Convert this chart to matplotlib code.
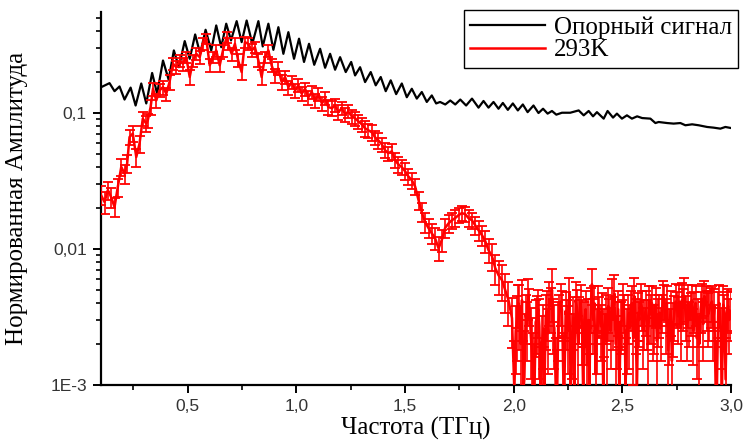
import numpy as np
import matplotlib.pyplot as plt
from matplotlib.ticker import FixedLocator, NullFormatter, LogLocator

# reference signal (peaks / troughs)
ref_freq = [0.101, 0.140, 0.163, 0.186, 0.209, 0.237, 0.260, 0.286, 0.309, 0.336,
            0.359, 0.386, 0.412, 0.436, 0.459, 0.486, 0.509, 0.534, 0.557, 0.582,
            0.608, 0.631, 0.654, 0.677, 0.699, 0.725, 0.748, 0.771, 0.797, 0.825,
            0.845, 0.871, 0.894, 0.917, 0.940, 0.963, 0.989, 1.012, 1.035, 1.058,
            1.082, 1.109, 1.132, 1.155, 1.178, 1.201, 1.227, 1.252, 1.270, 1.293,
            1.316, 1.342, 1.365, 1.388, 1.411, 1.434, 1.459, 1.485, 1.508, 1.531,
            1.554, 1.577, 1.600, 1.623, 1.643, 1.661, 1.685, 1.708, 1.731, 1.754,
            1.781, 1.808, 1.838, 1.861, 1.884, 1.907, 1.930, 1.950, 1.973, 1.996,
            2.019, 2.042, 2.064, 2.091, 2.114, 2.135, 2.156, 2.176, 2.196, 2.222,
            2.260, 2.299, 2.322, 2.345, 2.365, 2.383, 2.414, 2.432, 2.457, 2.475,
            2.498, 2.521, 2.544, 2.568, 2.591, 2.629, 2.652, 2.667, 2.706, 2.736,
            2.767, 2.790, 2.821, 2.851, 2.890, 2.920, 2.951, 2.974, 3.000]
ref_amp = [0.154, 0.165, 0.144, 0.156, 0.125, 0.153, 0.113, 0.164, 0.117, 0.196,
           0.138, 0.242, 0.175, 0.287, 0.216, 0.336, 0.249, 0.376, 0.271, 0.407,
           0.287, 0.438, 0.303, 0.451, 0.340, 0.471, 0.330, 0.476, 0.321, 0.471,
           0.307, 0.451, 0.290, 0.425, 0.271, 0.391, 0.249, 0.350, 0.236, 0.321,
           0.225, 0.295, 0.214, 0.271, 0.207, 0.256, 0.199, 0.236, 0.188, 0.216,
           0.168, 0.199, 0.159, 0.183, 0.144, 0.173, 0.137, 0.164, 0.130, 0.150,
           0.127, 0.142, 0.120, 0.134, 0.117, 0.120, 0.115, 0.123, 0.115, 0.125,
           0.113, 0.127, 0.109, 0.122, 0.109, 0.120, 0.107, 0.118, 0.105, 0.117,
           0.104, 0.115, 0.101, 0.113, 0.0995, 0.107, 0.0985, 0.103, 0.0968, 0.100,
           0.100, 0.104, 0.0957, 0.103, 0.0941, 0.101, 0.0905, 0.103, 0.0921, 0.0985,
           0.0905, 0.0957, 0.0905, 0.0941, 0.0914, 0.0905, 0.0840, 0.0855, 0.0840, 0.0832,
           0.0840, 0.0809, 0.0822, 0.0809, 0.0786, 0.0777, 0.0764, 0.0786, 0.0772]

# 293K, smooth part
s_freq = [0.101, 0.117, 0.132, 0.147, 0.163, 0.178, 0.194, 0.209, 0.221, 0.232,
          0.247, 0.263, 0.278, 0.293, 0.309, 0.316, 0.329, 0.340, 0.355, 0.370,
          0.386, 0.401, 0.416, 0.432, 0.447, 0.463, 0.478, 0.493, 0.509, 0.524,
          0.539, 0.555, 0.570, 0.585, 0.601, 0.616, 0.631, 0.647, 0.662, 0.679,
          0.686, 0.702, 0.717, 0.732, 0.748, 0.763, 0.778, 0.794, 0.809, 0.825,
          0.840, 0.855, 0.871, 0.886, 0.901, 0.917, 0.932, 0.948, 0.963, 0.978,
          0.994, 1.009, 1.024, 1.040, 1.055, 1.071, 1.086, 1.101, 1.117, 1.132,
          1.147, 1.163, 1.178, 1.193, 1.209, 1.224, 1.239, 1.255, 1.270, 1.285,
          1.301, 1.316, 1.331, 1.347, 1.362, 1.377, 1.393, 1.408, 1.423, 1.439,
          1.454, 1.469, 1.485, 1.500, 1.515, 1.531, 1.546, 1.562, 1.577, 1.592,
          1.608, 1.623, 1.638, 1.654, 1.669, 1.684, 1.700, 1.715, 1.730, 1.746,
          1.761, 1.777, 1.792, 1.808, 1.823, 1.838, 1.854, 1.869, 1.884, 1.900,
          1.915, 1.930, 1.946, 1.961, 1.976, 1.992]
s_amp = [0.0248, 0.0221, 0.0270, 0.0241, 0.0203, 0.0285, 0.0400, 0.0357, 0.0423, 0.0663,
         0.0703, 0.0473, 0.0593, 0.0905, 0.0832, 0.0879, 0.110, 0.150, 0.123, 0.146,
         0.154, 0.138, 0.168, 0.229, 0.216, 0.242, 0.229, 0.256, 0.183, 0.242,
         0.271, 0.256, 0.321, 0.350, 0.223, 0.256, 0.287, 0.223, 0.287, 0.359,
         0.321, 0.271, 0.321, 0.242, 0.199, 0.330, 0.321, 0.287, 0.303, 0.242,
         0.183, 0.256, 0.287, 0.223, 0.188, 0.211, 0.168, 0.183, 0.154, 0.168,
         0.146, 0.159, 0.138, 0.150, 0.130, 0.142, 0.123, 0.138, 0.117, 0.127,
         0.110, 0.108, 0.113, 0.101, 0.108, 0.0973, 0.102, 0.0941, 0.0910, 0.0865,
         0.0822, 0.0768, 0.0743, 0.0718, 0.0660, 0.0627, 0.0586, 0.0530, 0.0504, 0.0521,
         0.0448, 0.0418, 0.0398, 0.0372, 0.0341, 0.0319, 0.0288, 0.0228, 0.0186, 0.0157,
         0.0142, 0.0130, 0.0120, 0.0101, 0.0116, 0.0142, 0.0154, 0.0162, 0.0168, 0.0177,
         0.0183, 0.0180, 0.0168, 0.0162, 0.0149, 0.0137, 0.0126, 0.0114, 0.00978, 0.00884,
         0.00722, 0.00641, 0.00589, 0.00498, 0.00420, 0.00310]
s_rel_err = [0.16, 0.18, 0.15, 0.17, 0.16, 0.15, 0.14, 0.16, 0.15, 0.12,
             0.13, 0.15, 0.14, 0.12, 0.13, 0.12, 0.12, 0.11, 0.12, 0.11,
             0.12, 0.11, 0.12, 0.10, 0.11, 0.10, 0.11, 0.10, 0.12, 0.10,
             0.10, 0.11, 0.10, 0.09, 0.11, 0.10, 0.10, 0.11, 0.10, 0.09,
             0.10, 0.11, 0.10, 0.11, 0.12, 0.10, 0.10, 0.11, 0.10, 0.11,
             0.12, 0.10, 0.10, 0.11, 0.12, 0.11, 0.12, 0.11, 0.12, 0.11,
             0.12, 0.11, 0.12, 0.11, 0.12, 0.11, 0.12, 0.11, 0.12, 0.11,
             0.12, 0.12, 0.11, 0.12, 0.11, 0.12, 0.11, 0.12, 0.12, 0.12,
             0.12, 0.13, 0.12, 0.13, 0.12, 0.13, 0.12, 0.13, 0.12, 0.13,
             0.13, 0.14, 0.13, 0.14, 0.13, 0.14, 0.14, 0.15, 0.16, 0.17,
             0.16, 0.17, 0.18, 0.20, 0.18, 0.16, 0.15, 0.14, 0.14, 0.13,
             0.13, 0.13, 0.14, 0.14, 0.15, 0.16, 0.17, 0.18, 0.20, 0.22,
             0.25, 0.28, 0.30, 0.32, 0.35, 0.40]

# 293K, noisy tail above 2 THz
n_freq = [2.003, 2.009, 2.015, 2.021, 2.026, 2.032, 2.038, 2.044, 2.049, 2.055,
          2.061, 2.067, 2.072, 2.078, 2.084, 2.090, 2.095, 2.101, 2.107, 2.113,
          2.118, 2.124, 2.130, 2.136, 2.141, 2.147, 2.153, 2.159, 2.164, 2.170,
          2.176, 2.182, 2.187, 2.193, 2.199, 2.205, 2.210, 2.216, 2.222, 2.228,
          2.233, 2.239, 2.245, 2.251, 2.256, 2.262, 2.268, 2.274, 2.279, 2.285,
          2.291, 2.297, 2.302, 2.308, 2.314, 2.320, 2.325, 2.331, 2.337, 2.343,
          2.348, 2.354, 2.360, 2.366, 2.371, 2.377, 2.383, 2.389, 2.394, 2.400,
          2.406, 2.412, 2.417, 2.423, 2.429, 2.435, 2.440, 2.446, 2.452, 2.458,
          2.463, 2.469, 2.475, 2.481, 2.486, 2.492, 2.498, 2.504, 2.509, 2.515,
          2.521, 2.527, 2.532, 2.538, 2.544, 2.550, 2.555, 2.561, 2.567, 2.573,
          2.578, 2.584, 2.590, 2.596, 2.601, 2.607, 2.613, 2.619, 2.624, 2.630,
          2.636, 2.642, 2.647, 2.653, 2.659, 2.665, 2.670, 2.676, 2.682, 2.688,
          2.693, 2.699, 2.705, 2.711, 2.716, 2.722, 2.728, 2.734, 2.739, 2.745,
          2.751, 2.757, 2.762, 2.768, 2.774, 2.780, 2.785, 2.791, 2.797, 2.803,
          2.808, 2.814, 2.820, 2.826, 2.831, 2.837, 2.843, 2.849, 2.854, 2.860,
          2.866, 2.872, 2.877, 2.883, 2.889, 2.895, 2.900, 2.906, 2.912, 2.918,
          2.923, 2.929, 2.935, 2.941, 2.946, 2.952, 2.958, 2.964, 2.969, 2.975,
          2.981, 2.987, 2.992, 2.998]
n_amp = [0.0009, 0.0025, 0.0030, 0.0040, 0.0036, 0.0020, 0.0042, 0.0009, 0.0011, 0.0033,
         0.0028, 0.0045, 0.0039, 0.0024, 0.0017, 0.0012, 0.0008, 0.0029, 0.0031, 0.0036,
         0.0027, 0.0008, 0.0020, 0.0026, 0.0008, 0.0032, 0.0035, 0.0024, 0.0042, 0.0038,
         0.0050, 0.0030, 0.0026, 0.0010, 0.0007, 0.0028, 0.0034, 0.0041, 0.0036, 0.0012,
         0.0009, 0.0035, 0.0030, 0.0025, 0.0047, 0.0009, 0.0022, 0.0031, 0.0008, 0.0042,
         0.0037, 0.0020, 0.0032, 0.0040, 0.0028, 0.0008, 0.0030, 0.0036, 0.0014, 0.0030,
         0.0009, 0.0038, 0.0055, 0.0030, 0.0040, 0.0012, 0.0024, 0.0039, 0.0033, 0.0027,
         0.0035, 0.0009, 0.0026, 0.0033, 0.0021, 0.0038, 0.0032, 0.0025, 0.0045, 0.0031,
         0.0047, 0.0020, 0.0027, 0.0036, 0.0008, 0.0029, 0.0030, 0.0041, 0.0035, 0.0010,
         0.0024, 0.0033, 0.0026, 0.0037, 0.0040, 0.0022, 0.0045, 0.0030, 0.0009, 0.0034,
         0.0030, 0.0041, 0.0037, 0.0025, 0.0030, 0.0036, 0.0030, 0.0020, 0.0042, 0.0033,
         0.0040, 0.0027, 0.0028, 0.0039, 0.0021, 0.0031, 0.0034, 0.0026, 0.0035, 0.0044,
         0.0042, 0.0030, 0.0040, 0.0018, 0.0025, 0.0036, 0.0015, 0.0028, 0.0033, 0.0041,
         0.0037, 0.0032, 0.0041, 0.0026, 0.0042, 0.0038, 0.0045, 0.0033, 0.0027, 0.0040,
         0.0030, 0.0035, 0.0042, 0.0025, 0.0036, 0.0040, 0.0022, 0.0031, 0.0020, 0.0036,
         0.0043, 0.0028, 0.0045, 0.0041, 0.0037, 0.0033, 0.0035, 0.0039, 0.0041, 0.0027,
         0.0038, 0.0010, 0.0009, 0.0035, 0.0040, 0.0025, 0.0008, 0.0039, 0.0034, 0.0011,
         0.0036, 0.0038, 0.0030, 0.0035]
n_err = [0.0012, 0.0013, 0.0015, 0.0014, 0.0018, 0.0013, 0.0017, 0.0012, 0.0014, 0.0013,
         0.0013, 0.0015, 0.0012, 0.0013, 0.0014, 0.0012, 0.0012, 0.0013, 0.0014, 0.0014,
         0.0016, 0.0011, 0.0012, 0.0013, 0.0011, 0.0014, 0.0014, 0.0012, 0.0015, 0.0014,
         0.0021, 0.0013, 0.0013, 0.0012, 0.0011, 0.0013, 0.0012, 0.0014, 0.0013, 0.0012,
         0.0012, 0.0013, 0.0012, 0.0013, 0.0014, 0.0012, 0.0011, 0.0013, 0.0012, 0.0015,
         0.0013, 0.0012, 0.0012, 0.0014, 0.0014, 0.0011, 0.0011, 0.0013, 0.0012, 0.0013,
         0.0011, 0.0014, 0.0016, 0.0013, 0.0013, 0.0012, 0.0012, 0.0014, 0.0011, 0.0012,
         0.0012, 0.0011, 0.0010, 0.0013, 0.0012, 0.0014, 0.0011, 0.0012, 0.0015, 0.0013,
         0.0017, 0.0012, 0.0014, 0.0013, 0.0011, 0.0012, 0.0012, 0.0014, 0.0011, 0.0012,
         0.0012, 0.0013, 0.0013, 0.0012, 0.0013, 0.0012, 0.0016, 0.0013, 0.0012, 0.0013,
         0.0011, 0.0014, 0.0012, 0.0012, 0.0012, 0.0013, 0.0012, 0.0011, 0.0011, 0.0013,
         0.0013, 0.0012, 0.0011, 0.0013, 0.0012, 0.0012, 0.0012, 0.0011, 0.0011, 0.0014,
         0.0012, 0.0013, 0.0013, 0.0011, 0.0011, 0.0013, 0.0013, 0.0012, 0.0012, 0.0014,
         0.0011, 0.0012, 0.0013, 0.0011, 0.0014, 0.0013, 0.0016, 0.0012, 0.0012, 0.0014,
         0.0011, 0.0012, 0.0012, 0.0011, 0.0012, 0.0013, 0.0011, 0.0012, 0.0012, 0.0012,
         0.0012, 0.0013, 0.0013, 0.0012, 0.0012, 0.0014, 0.0014, 0.0013, 0.0012, 0.0012,
         0.0013, 0.0011, 0.0012, 0.0013, 0.0014, 0.0012, 0.0011, 0.0014, 0.0012, 0.0011,
         0.0012, 0.0013, 0.0013, 0.0014]

freq = np.array(s_freq + n_freq)
amp = np.array(s_amp + n_amp)
err = np.concatenate([np.array(s_rel_err) * np.array(s_amp), np.array(n_err)])

serif = ['Liberation Serif', 'DejaVu Serif']
sans = ['Liberation Sans', 'DejaVu Sans']

fig = plt.figure(figsize=(7.47, 4.43), dpi=100)
ax = fig.add_axes([0.135, 0.131, 0.8436, 0.842])

ax.plot(ref_freq, ref_amp, color='black', lw=1.6, label='Опорный сигнал', zorder=2,
        solid_joinstyle='round')
ax.errorbar(freq, amp, yerr=err, fmt='none', ecolor='#ff0000', elinewidth=1.2,
            capsize=3.8, capthick=1.3, zorder=3)
ax.plot(freq, amp, color='#ff0000', lw=1.8, label='293K', zorder=4)

ax.set_yscale('log')
ax.set_xlim(0.1, 3.0)
ax.set_ylim(1e-3, 0.55)

ax.set_xticks([0.5, 1.0, 1.5, 2.0, 2.5, 3.0])
ax.set_xticklabels(['0,5', '1,0', '1,5', '2,0', '2,5', '3,0'])
ax.xaxis.set_minor_locator(FixedLocator([0.25, 0.75, 1.25, 1.75, 2.25, 2.75]))
ax.set_yticks([1e-3, 1e-2, 1e-1])
ax.set_yticklabels(['1E-3', '0,01', '0,1'])
ax.yaxis.set_minor_locator(LogLocator(base=10, subs=np.arange(2, 10)))
ax.yaxis.set_minor_formatter(NullFormatter())

for side in ['top', 'right']:
    ax.spines[side].set_visible(False)
for side in ['left', 'bottom']:
    ax.spines[side].set_linewidth(1.6)

ax.tick_params(which='major', direction='out', length=6, width=1.4, labelsize=12.5,
               labelcolor='#333333', pad=4)
ax.tick_params(which='minor', direction='out', length=3.5, width=1.2)
for lab in ax.get_xticklabels() + ax.get_yticklabels():
    lab.set_family(sans)

ax.set_xlabel('Частота (ТГц)', family=serif, fontsize=18)
ax.set_ylabel('Нормированная Амплитуда', family=serif, fontsize=18)
ax.xaxis.set_label_coords(0.5, -0.085)
ax.yaxis.set_label_coords(-0.115, 0.5)

leg = ax.legend(loc='upper right', bbox_to_anchor=(0.988, 0.977),
                bbox_transform=fig.transFigure, prop={'family': serif, 'size': 18},
                frameon=True, fancybox=False, edgecolor='black', framealpha=1,
                borderaxespad=0, borderpad=0.25, labelspacing=0.0,
                handlelength=3.0, handletextpad=0.35)
leg.get_frame().set_linewidth(1.0)
leg.set_zorder(10)

fig.savefig('out.png', dpi=100)
